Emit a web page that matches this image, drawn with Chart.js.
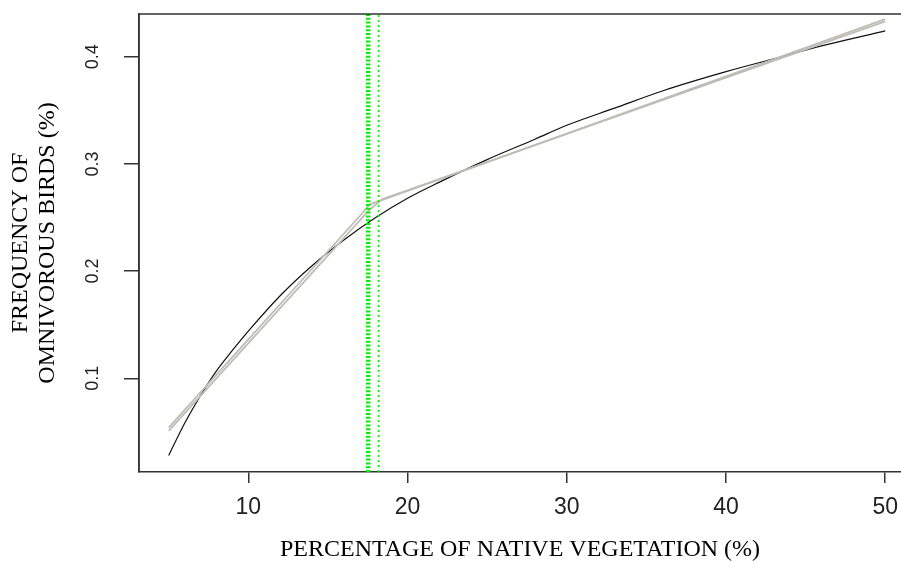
<!DOCTYPE html>
<html>
<head>
<meta charset="utf-8">
<script src="https://cdn.jsdelivr.net/npm/chart.js@4/dist/chart.umd.min.js"></script>
<style>
html,body{margin:0;padding:0;background:#fff;}
#wrap{width:901px;height:562px;}
</style>
</head>
<body>
<div id="wrap"><canvas id="c" width="901" height="562"></canvas></div>
<script>
// ---- data ----
const vegX      = [5, 6, 7, 8, 9, 10, 12, 14, 16, 18, 20, 22, 25, 28, 30, 33, 36, 40, 43, 46, 50];
const fitY      = [0.028, 0.058, 0.084, 0.107, 0.126, 0.144, 0.177, 0.205, 0.229, 0.250, 0.268, 0.283, 0.304, 0.323, 0.336, 0.352, 0.368, 0.386, 0.398, 0.410, 0.424];
const segAX     = [5, 17.1, 17.6, 50];
const segAY     = [0.054, 0.253, 0.262, 0.435];
const segBX     = [5, 17.6, 18.4, 50];
const segBY     = [0.051, 0.257, 0.267, 0.433];
const breakMain = 17.53;   // thick dashed green line
const breakAlt  = 18.18;   // thin dotted green line
const xTicks    = [10, 20, 30, 40, 50];
const yTicks    = [0.1, 0.2, 0.3, 0.4];
const xTitle    = 'PERCENTAGE OF NATIVE VEGETATION (%)';
const yTitle    = ['FREQUENCY OF', 'OMNIVOROUS BIRDS (%)'];

const xMin = 3.134, xMax = 50.99;
const yMin = 0.0126, yMax = 0.4398;

const pts = (xs, ys) => xs.map((x, i) => ({x: x, y: ys[i]}));

const noPad = s => { s.paddingLeft = 0; s.paddingRight = 0; s.paddingTop = 0; s.paddingBottom = 0; };

const framePlugin = {
  id: 'frame',
  afterDatasetsDraw(chart) {
    const {ctx, chartArea: a} = chart;
    ctx.save();
    ctx.strokeStyle = '#333';
    ctx.lineWidth = 1.5;
    ctx.beginPath();
    ctx.moveTo(a.left, a.bottom);
    ctx.lineTo(a.left, a.top);
    ctx.lineTo(a.right + 2, a.top);
    ctx.stroke();
    ctx.restore();
  }
};

new Chart(document.getElementById('c'), {
  type: 'line',
  data: {
    datasets: [
      {label: 'break', data: [{x: breakMain, y: yMin}, {x: breakMain, y: yMax}],
       borderColor: '#00ee00', borderWidth: 4.5, borderDash: [2, 1.8], pointRadius: 0},
      {label: 'break alt', data: [{x: breakAlt, y: yMin}, {x: breakAlt, y: yMax}],
       borderColor: '#00ee00', borderWidth: 1.6, borderDash: [2, 3], pointRadius: 0},
      {label: 'segmented A', data: pts(segAX, segAY), borderColor: '#bdbdb5', borderWidth: 1.8, pointRadius: 0, tension: 0},
      {label: 'segmented B', data: pts(segBX, segBY), borderColor: '#bdbdb5', borderWidth: 1.8, pointRadius: 0, tension: 0},
      {label: 'fit', data: pts(vegX, fitY), borderColor: '#111', borderWidth: 1.2, pointRadius: 0, cubicInterpolationMode: 'monotone'}
    ]
  },
  options: {
    responsive: false,
    animation: false,
    layout: {padding: {top: 14, left: 0, right: 0, bottom: 0}},
    plugins: {legend: {display: false}, tooltip: {enabled: false}},
    scales: {
      x: {
        type: 'linear', min: xMin, max: xMax,
        afterFit: s => { s.height = 90; noPad(s); },
        afterBuildTicks: s => { s.ticks = xTicks.map(v => ({value: v})); },
        grid: {drawOnChartArea: false, drawTicks: true, tickLength: 11, color: '#333', lineWidth: 1.5},
        border: {display: true, color: '#333', width: 1.5},
        ticks: {color: '#222', padding: 11, maxRotation: 0, font: {family: 'Liberation Sans', size: 23},
                callback: v => String(v)},
        title: {display: true, text: xTitle, color: '#000', font: {family: 'Liberation Serif', size: 24, lineHeight: 1},
                padding: {top: 0, bottom: 0}}
      },
      y: {
        type: 'linear', min: yMin, max: yMax,
        afterFit: s => { s.width = 139; noPad(s); },
        afterBuildTicks: s => { s.ticks = yTicks.map(v => ({value: v})); },
        grid: {drawOnChartArea: false, drawTicks: true, tickLength: 15, color: '#333', lineWidth: 1.5},
        border: {display: true, color: '#333', width: 1.5},
        ticks: {color: '#222', padding: 18, minRotation: 90, maxRotation: 90, crossAlign: 'center',
                font: {family: 'Liberation Sans', size: 18}, callback: v => String(v)},
        title: {display: true, text: yTitle, color: '#000', font: {family: 'Liberation Serif', size: 24, lineHeight: 1.12},
                padding: {top: 7, bottom: 0}}
      }
    }
  },
  plugins: [framePlugin]
});
</script>
</body>
</html>
